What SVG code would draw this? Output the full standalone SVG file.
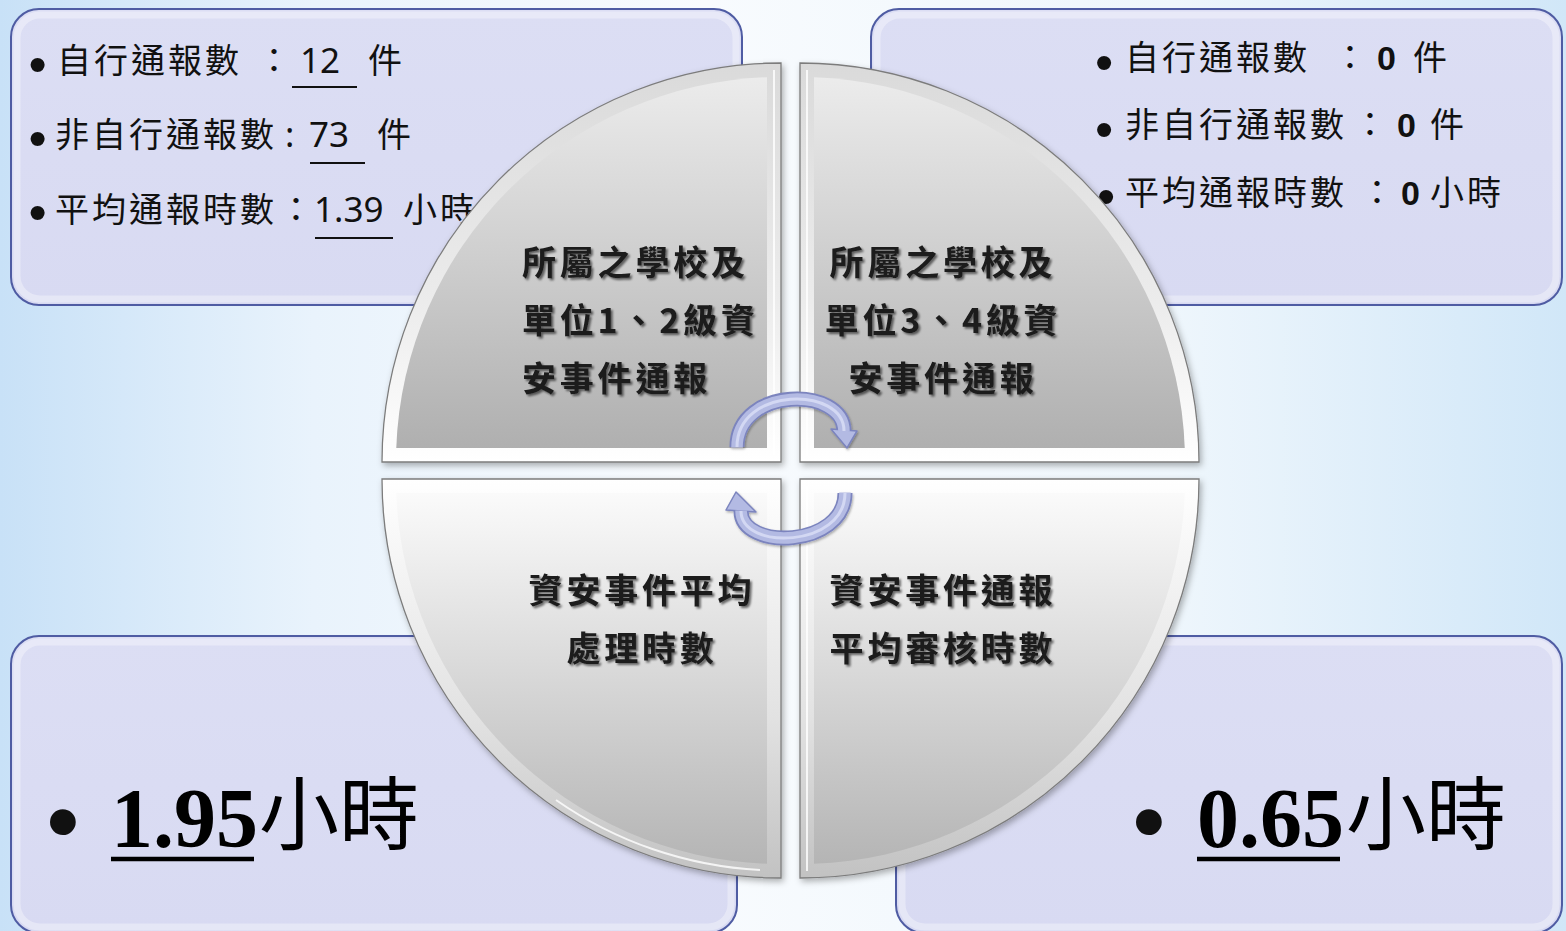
<svg xmlns="http://www.w3.org/2000/svg" width="1566" height="931" viewBox="0 0 1566 931">
  <defs>
    <linearGradient id="bg" x1="0" y1="0" x2="1" y2="0">
      <stop offset="0" stop-color="#c8e1f7"/>
      <stop offset="0.2" stop-color="#e9f3fc"/>
      <stop offset="0.45" stop-color="#f8fbfe"/>
      <stop offset="0.75" stop-color="#eef6fc"/>
      <stop offset="1" stop-color="#d1e7f8"/>
    </linearGradient>
    <linearGradient id="boxFill" x1="0" y1="0" x2="0" y2="1">
      <stop offset="0" stop-color="#dcdef4"/>
      <stop offset="1" stop-color="#d8daf2"/>
    </linearGradient>
    <linearGradient id="topMain" gradientUnits="userSpaceOnUse" x1="0" y1="63" x2="0" y2="462">
      <stop offset="0" stop-color="#eeeeee"/>
      <stop offset="1" stop-color="#adadad"/>
    </linearGradient>
    <linearGradient id="topBevel" gradientUnits="userSpaceOnUse" x1="0" y1="63" x2="0" y2="462">
      <stop offset="0" stop-color="#dadada"/>
      <stop offset="0.6" stop-color="#ececec"/>
      <stop offset="1" stop-color="#ffffff"/>
    </linearGradient>
    <linearGradient id="botMain" gradientUnits="userSpaceOnUse" x1="0" y1="479" x2="0" y2="878">
      <stop offset="0" stop-color="#fdfdfd"/>
      <stop offset="1" stop-color="#b2b2b2"/>
    </linearGradient>
    <linearGradient id="botBevel" gradientUnits="userSpaceOnUse" x1="0" y1="479" x2="0" y2="878">
      <stop offset="0" stop-color="#ffffff"/>
      <stop offset="0.6" stop-color="#e2e2e2"/>
      <stop offset="1" stop-color="#c2c2c2"/>
    </linearGradient>
    <filter id="qshadow" x="-10%" y="-10%" width="120%" height="120%">
      <feDropShadow dx="2" dy="3" stdDeviation="3" flood-color="#000" flood-opacity="0.3"/>
    </filter>
    <filter id="tshadow" x="-5%" y="-20%" width="110%" height="140%">
      <feDropShadow dx="2" dy="2" stdDeviation="1.2" flood-color="#000" flood-opacity="0.55"/>
    </filter>
    <filter id="ashadow" x="-20%" y="-20%" width="140%" height="140%">
      <feDropShadow dx="1" dy="1.5" stdDeviation="1" flood-color="#000" flood-opacity="0.3"/>
    </filter>
  </defs>
  <style>
    .box { fill: url(#boxFill); stroke: #4f5ca3; stroke-width: 2; }
    .boxrim { fill: none; stroke: #ffffff; stroke-opacity: 0.35; stroke-width: 7; }
    .cjk { font-family: "Noto Sans CJK TC", "Noto Sans CJK SC", sans-serif; fill: #111; }
    .stat { font-size: 34px; letter-spacing: 3px; }
    .num { font-family: "Noto Sans", "Liberation Sans", sans-serif; font-size: 35px; fill: #111; }
    .numb { font-family: "Liberation Sans", Arial, sans-serif; font-size: 34px; font-weight: bold; fill: #111; }
    .bul { font-family: "Liberation Sans", Arial, sans-serif; fill: #111; text-anchor: middle; }
    .big { font-family: "Liberation Serif", "Times New Roman", serif; font-weight: bold; font-size: 84px; fill: #000; }
    .bigc { font-size: 80px; fill: #000; }
    .ul { stroke: #111; stroke-width: 2.2; }
    .ulb { stroke: #000; stroke-width: 4.5; }
    .qout { stroke: #7c7c7c; stroke-width: 1.3; }
    .qtext { font-family: "Noto Sans CJK TC", "Noto Sans CJK SC", sans-serif; font-weight: 700; font-size: 34px; letter-spacing: 3.8px; fill: #1a1a1a; filter: url(#tshadow); }
    .hl { fill: none; stroke: #ffffff; stroke-opacity: 0.8; stroke-width: 2; }
    .aout { fill: none; stroke: #7b84be; stroke-width: 15; }
    .afill { fill: none; stroke: #b3bae3; stroke-width: 11.5; }
    .ahi { fill: none; stroke: #d3d8f3; stroke-width: 3; }
    .ahead { fill: #b3bae3; stroke: #7b84be; stroke-width: 1.5; stroke-linejoin: round; }
  </style>

  <rect x="0" y="0" width="1566" height="931" fill="url(#bg)"/>

  <!-- Top-left box -->
  <g id="box-top-left">
    <rect class="box" x="11" y="9" width="731" height="296" rx="28"/>
    <rect class="boxrim" x="17" y="15" width="719" height="284" rx="23"/>
    <text class="bul" x="37.5" y="81.5" font-size="52">•</text>
    <text class="cjk stat" x="57" y="73">自行通報數</text>
    <text class="cjk stat" x="257" y="73">：</text>
    <text class="num" x="300" y="73">12</text>
    <text class="cjk stat" x="368" y="73">件</text>
    <line class="ul" x1="292" y1="87" x2="357" y2="87"/>

    <text class="bul" x="37.5" y="155.5" font-size="52">•</text>
    <text class="cjk stat" x="55" y="147">非自行通報數</text>
    <text class="num" x="285" y="147">:</text>
    <text class="num" x="309" y="147">73</text>
    <text class="cjk stat" x="377" y="147">件</text>
    <line class="ul" x1="310" y1="163" x2="365" y2="163"/>

    <text class="bul" x="37.5" y="229.5" font-size="52">•</text>
    <text class="cjk stat" x="55" y="222">平均通報時數</text>
    <text class="cjk stat" x="279" y="222">：</text>
    <text class="num" x="314" y="222">1.39</text>
    <text class="cjk stat" x="403" y="222">小時</text>
    <line class="ul" x1="315" y1="238" x2="393" y2="238"/>
  </g>

  <!-- Top-right box -->
  <g id="box-top-right">
    <rect class="box" x="871" y="9" width="691" height="296" rx="28"/>
    <rect class="boxrim" x="877" y="15" width="679" height="284" rx="23"/>
    <text class="bul" x="1104" y="79.5" font-size="52">•</text>
    <text class="cjk stat" x="1125" y="70">自行通報數</text>
    <text class="cjk stat" x="1333" y="70">：</text>
    <text class="numb" x="1377" y="70">0</text>
    <text class="cjk stat" x="1413" y="70">件</text>

    <text class="bul" x="1104" y="146.5" font-size="52">•</text>
    <text class="cjk stat" x="1125" y="137">非自行通報數</text>
    <text class="cjk stat" x="1353" y="137">：</text>
    <text class="numb" x="1397" y="137">0</text>
    <text class="cjk stat" x="1430" y="137">件</text>

    <text class="bul" x="1106" y="213.5" font-size="52">•</text>
    <text class="cjk stat" x="1125" y="205">平均通報時數</text>
    <text class="cjk stat" x="1360" y="205">：</text>
    <text class="numb" x="1401" y="205">0</text>
    <text class="cjk stat" x="1430" y="205">小時</text>
  </g>

  <!-- Bottom-left box -->
  <g id="box-bottom-left">
    <rect class="box" x="11" y="636" width="726" height="297" rx="28"/>
    <rect class="boxrim" x="17" y="642" width="714" height="285" rx="23"/>
    <text class="bul" x="63" y="854" font-size="95">•</text>
    <text class="big" x="111" y="847">1.95</text>
    <text class="cjk bigc" x="259" y="843">小時</text>
    <line class="ulb" x1="111" y1="859" x2="254" y2="859"/>
  </g>

  <!-- Bottom-right box -->
  <g id="box-bottom-right">
    <rect class="box" x="896" y="636" width="666" height="297" rx="28"/>
    <rect class="boxrim" x="902" y="642" width="654" height="285" rx="23"/>
    <text class="bul" x="1149" y="854" font-size="95">•</text>
    <text class="big" x="1197" y="847">0.65</text>
    <text class="cjk bigc" x="1346" y="843">小時</text>
    <line class="ulb" x1="1197" y1="859" x2="1340" y2="859"/>
  </g>

  <!-- Quadrant 1: top-left -->
  <g id="quad-top-left">
    <path class="qout" filter="url(#qshadow)" fill="url(#topBevel)" d="M781,462 H382 A399,399 0 0 1 781,63 Z"/>
    <path fill="url(#topMain)" d="M767,448 H396.25 A385,385 0 0 1 767,77.25 Z"/>
    <path class="hl" d="M774,455 V70"/>
    <text class="qtext" x="522" y="275">所屬之學校及</text>
    <text class="qtext" x="522" y="333">單位1、2級資</text>
    <text class="qtext" x="522" y="391">安事件通報</text>
  </g>

  <!-- Quadrant 2: top-right -->
  <g id="quad-top-right">
    <path class="qout" filter="url(#qshadow)" fill="url(#topBevel)" d="M800,462 V63 A399,399 0 0 1 1199,462 Z"/>
    <path fill="url(#topMain)" d="M814,448 V77.25 A385,385 0 0 1 1184.75,448 Z"/>
    <path class="hl" d="M807,456 V70"/>
    <text class="qtext" x="943" y="275" text-anchor="middle">所屬之學校及</text>
    <text class="qtext" x="943" y="333" text-anchor="middle">單位3、4級資</text>
    <text class="qtext" x="943" y="391" text-anchor="middle">安事件通報</text>
  </g>

  <!-- Quadrant 3: bottom-left -->
  <g id="quad-bottom-left">
    <path class="qout" filter="url(#qshadow)" fill="url(#botBevel)" d="M781,479 V878 A399,399 0 0 1 382,479 Z"/>
    <path fill="url(#botMain)" d="M767,493 V863.75 A385,385 0 0 1 396.25,493 Z"/>
    <path class="hl" d="M760,870 A392,392 0 0 1 556,800"/>
    <text class="qtext" x="642" y="603" text-anchor="middle">資安事件平均</text>
    <text class="qtext" x="642" y="661" text-anchor="middle">處理時數</text>
  </g>

  <!-- Quadrant 4: bottom-right -->
  <g id="quad-bottom-right">
    <path class="qout" filter="url(#qshadow)" fill="url(#botBevel)" d="M800,479 H1199 A399,399 0 0 1 800,878 Z"/>
    <path fill="url(#botMain)" d="M814,493 H1184.75 A385,385 0 0 1 814,863.75 Z"/>
    <path class="hl" d="M807,486 V871"/>
    <text class="qtext" x="943" y="603" text-anchor="middle">資安事件通報</text>
    <text class="qtext" x="943" y="661" text-anchor="middle">平均審核時數</text>
  </g>

  <!-- Connectors: circular arrows -->
  <g id="connectors" filter="url(#ashadow)">
    <path class="aout" d="M737,447 C737,386 844,386 844,431"/>
    <polygon class="ahead" points="831,429 857,431 847,448"/>
    <path class="afill" d="M737,447.5 C737,386 844,386 844,431.5"/>
    <path class="ahi" d="M737,447 C737,386 844,386 844,431"/>

    <path class="aout" d="M845,493 C845,548 741,551 741,511"/>
    <polygon class="ahead" points="726,510 756,512 736,492"/>
    <path class="afill" d="M845,492.5 C845,548 741,551 741,510.5"/>
    <path class="ahi" d="M845,493 C845,548 741,551 741,511"/>
  </g>
</svg>
